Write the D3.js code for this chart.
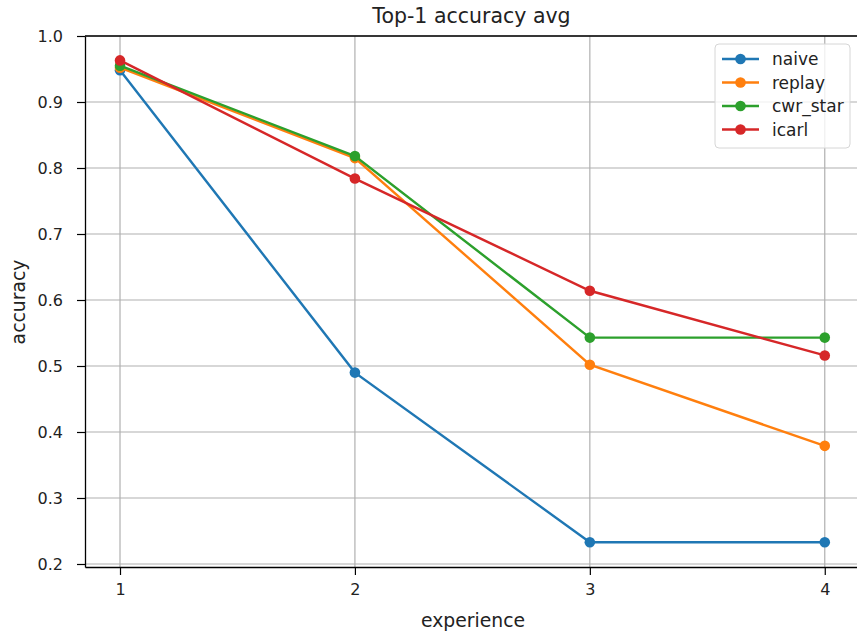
<!DOCTYPE html>
<html>
<head>
<meta charset="utf-8">
<script src="https://cdn.jsdelivr.net/npm/d3@7"></script>
<style>
  body { margin: 0; background: #fff; }
  svg { display: block; font-family: "DejaVu Sans", sans-serif; }
</style>
</head>
<body>
<svg id="chart"></svg>
<script>
// data
const experiences = [1, 2, 3, 4]
const seriesNames = ['naive', 'replay', 'cwr_star', 'icarl']
const naive = [0.948, 0.490, 0.233, 0.233]
const replay = [0.952, 0.815, 0.502, 0.379]
const cwrStar = [0.955, 0.818, 0.543, 0.543]
const icarl = [0.963, 0.784, 0.614, 0.516]
const yTicks = [0.2, 0.3, 0.4, 0.5, 0.6, 0.7, 0.8, 0.9, 1.0]
const colors = ['#1f77b4', '#ff7f0e', '#2ca02c', '#d62728']

const series = [naive, replay, cwrStar, icarl].map((vals, i) => ({
  name: seriesNames[i],
  color: colors[i],
  points: vals.map((v, j) => ({x: experiences[j], y: v}))
}))

const width = 857, height = 634
const margin = {top: 36, right: -3, bottom: 67, left: 85}

const svg = d3.select('#chart').attr('width', width).attr('height', height)

const x = d3.scaleLinear()
  .domain([0.851, 4.15])
  .range([margin.left, width - margin.right])

const y = d3.scaleLinear()
  .domain([0.19545, 1.0])
  .range([height - margin.bottom, margin.top])

// grid
svg.append('g')
  .selectAll('line')
  .data(experiences)
  .join('line')
  .attr('x1', d => x(d)).attr('x2', d => x(d))
  .attr('y1', y.range()[0]).attr('y2', y.range()[1])
  .attr('stroke', '#b0b0b0').attr('stroke-width', 1.2)

svg.append('g')
  .selectAll('line')
  .data(yTicks)
  .join('line')
  .attr('x1', x.range()[0]).attr('x2', x.range()[1])
  .attr('y1', d => y(d)).attr('y2', d => y(d))
  .attr('stroke', '#b0b0b0').attr('stroke-width', 1.2)

// lines + markers
const line = d3.line().x(d => x(d.x)).y(d => y(d.y))

const g = svg.append('g')
series.forEach(s => {
  g.append('path')
    .datum(s.points)
    .attr('d', line)
    .attr('fill', 'none')
    .attr('stroke', s.color)
    .attr('stroke-width', 2.4)
  g.selectAll(null)
    .data(s.points)
    .join('circle')
    .attr('cx', d => x(d.x))
    .attr('cy', d => y(d.y))
    .attr('r', 5.3)
    .attr('fill', s.color)
})

// axes
const xAxis = svg.append('g')
  .attr('transform', 'translate(0,' + y.range()[0] + ')')
  .call(d3.axisBottom(x).tickValues(experiences).tickFormat(d3.format('d')).tickSize(8).tickPadding(9).tickSizeOuter(0))
const yAxis = svg.append('g')
  .attr('transform', 'translate(' + x.range()[0] + ',0)')
  .call(d3.axisLeft(y).tickValues(yTicks).tickFormat(d3.format('.1f')).tickSize(8).tickPadding(14).tickSizeOuter(0))

;[xAxis, yAxis].forEach(a => {
  a.select('.domain').attr('stroke', '#000').attr('stroke-width', 1.3)
  a.selectAll('.tick line').attr('stroke', '#000').attr('stroke-width', 1.2)
  a.selectAll('.tick text').attr('fill', '#222').style('font-size', '16px').style('font-family', '"DejaVu Sans", sans-serif')
})

// top spine
svg.append('line')
  .attr('x1', x.range()[0]).attr('x2', x.range()[1])
  .attr('y1', y.range()[1]).attr('y2', y.range()[1])
  .attr('stroke', '#000').attr('stroke-width', 1.3)

// labels
svg.append('text')
  .attr('x', 471.5).attr('y', 16)
  .attr('text-anchor', 'middle').attr('dominant-baseline', 'central')
  .style('font-size', '20.5px').attr('fill', '#222')
  .text('Top-1 accuracy avg')

svg.append('text')
  .attr('x', 473).attr('y', 620)
  .attr('text-anchor', 'middle').attr('dominant-baseline', 'central')
  .style('font-size', '18.8px').attr('fill', '#222')
  .text('experience')

svg.append('text')
  .attr('transform', 'translate(18,302) rotate(-90)')
  .attr('text-anchor', 'middle').attr('dominant-baseline', 'central')
  .style('font-size', '18.8px').attr('fill', '#222')
  .text('accuracy')

// legend
const legend = svg.append('g')
legend.append('rect')
  .attr('x', 715).attr('y', 44).attr('width', 135).attr('height', 104)
  .attr('rx', 4).attr('fill', '#fff').attr('fill-opacity', 0.8)
  .attr('stroke', '#d6d6d6').attr('stroke-width', 1)

const items = legend.selectAll('g.item')
  .data(series)
  .join('g')
  .attr('class', 'item')
  .attr('transform', (d, i) => 'translate(0,' + (59 + i * 23.5) + ')')
items.append('line')
  .attr('x1', 722).attr('x2', 759)
  .attr('stroke', d => d.color).attr('stroke-width', 2.4)
items.append('circle')
  .attr('cx', 740.5).attr('r', 5.3)
  .attr('fill', d => d.color)
items.append('text')
  .attr('x', 772).attr('dominant-baseline', 'central')
  .style('font-size', '17px').attr('fill', '#222')
  .text(d => d.name)
</script>
</body>
</html>
